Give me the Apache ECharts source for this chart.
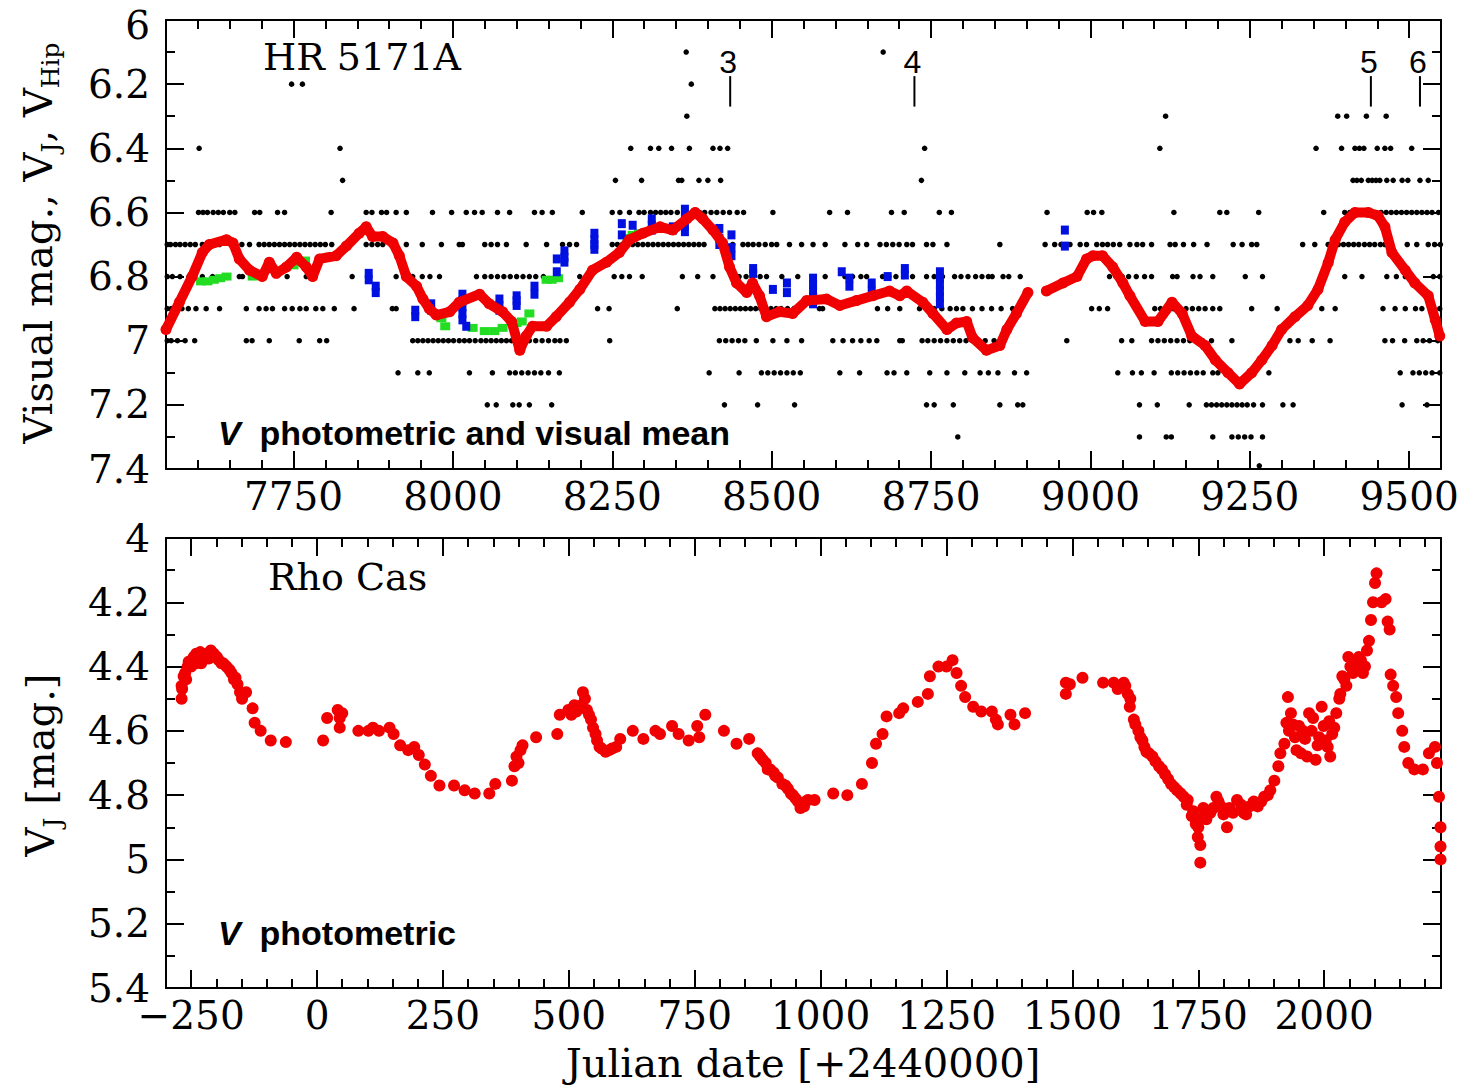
<!DOCTYPE html>
<html><head><meta charset="utf-8">
<script src="https://cdn.jsdelivr.net/npm/echarts@6/dist/echarts.min.js"></script>
<style>html,body{margin:0;padding:0;background:#fff}#c{width:1462px;height:1088px}</style>
</head><body><div id="c"></div>
<script>
// ---------- tick values ----------
const xTopMajor = [7750, 8000, 8250, 8500, 8750, 9000, 9250, 9500];
const xTopMinor = [7600,7650,7700,7800,7850,7900,7950,8050,8100,8150,8200,8300,8350,8400,8450,8550,8600,8650,8700,8800,8850,8900,8950,9050,9100,9150,9200,9300,9350,9400,9450];
const yTopMajor = [6, 6.2, 6.4, 6.6, 6.8, 7, 7.2, 7.4];
const yTopMinor = [6.1, 6.3, 6.5, 6.7, 6.9, 7.1, 7.3];
const xBotMajor = [-250, 0, 250, 500, 750, 1000, 1250, 1500, 1750, 2000];
const xBotMinor = [-200,-150,-100,-50,50,100,150,200,300,350,400,450,550,600,650,700,800,850,900,950,1050,1100,1150,1200,1300,1350,1400,1450,1550,1600,1650,1700,1800,1850,1900,1950,2050,2100,2150,2200];
const yBotMajor = [4, 4.2, 4.4, 4.6, 4.8, 5, 5.2, 5.4];
const yBotMinor = [4.1, 4.3, 4.5, 4.7, 4.9, 5.1, 5.3];

// ---------- HR 5171A: visual estimates (JD-2440000) per magnitude level ----------
const vis61 = [8366, 8675];
const vis62 = [7747, 7764, 8374];
const vis63 = [8367, 9118, 9388, 9402, 9433, 9464];
const vis64 = [7602, 7823, 8279, 8310, 8323, 8343, 8371, 8408, 8419, 8431, 8740, 9109, 9354, 9394, 9415, 9422, 9429, 9450, 9462, 9471, 9504];
const vis65 = [7827, 8255, 8296, 8354, 8359, 8386, 8400, 8420, 8735, 9412, 9418, 9425, 9436, 9442, 9448, 9454, 9465, 9475, 9489, 9498, 9517, 9530];
const vis66 = [7601, 7608, 7615, 7624, 7632, 7640, 7650, 7658, 7689, 7697, 7725, 7736, 7809, 7864, 7873, 7888, 7896, 7911, 7927, 7968, 7998, 8021, 8034, 8046, 8070, 8089, 8128, 8140, 8156, 8203, 8250, 8262, 8277, 8292, 8300, 8310, 8318, 8326, 8334, 8342, 8352, 8379, 8387, 8395, 8405, 8414, 8424, 8434, 8446, 8456, 8502, 8591, 8619, 8688, 8708, 8763, 8782, 8932, 8995, 9005, 9018, 9131, 9203, 9214, 9264, 9366, 9399, 9407, 9415, 9423, 9431, 9440, 9448, 9456, 9464, 9472, 9480, 9488, 9496, 9504, 9512, 9520, 9528, 9536, 9546];
const vis67 = [7552, 7557, 7565, 7572, 7580, 7588, 7596, 7607, 7617, 7634, 7657, 7669, 7681, 7696, 7704, 7712, 7720, 7728, 7736, 7744, 7752, 7760, 7768, 7776, 7784, 7792, 7800, 7810, 7864, 7873, 7882, 7890, 7905, 7927, 7952, 7982, 8010, 8015, 8050, 8060, 8070, 8084, 8115, 8147, 8172, 8183, 8194, 8250, 8258, 8266, 8274, 8282, 8290, 8298, 8306, 8314, 8322, 8330, 8338, 8346, 8354, 8362, 8370, 8378, 8386, 8394, 8418, 8439, 8455, 8463, 8471, 8480, 8490, 8500, 8508, 8528, 8547, 8565, 8584, 8615, 8635, 8649, 8670, 8680, 8690, 8700, 8712, 8721, 8743, 8753, 8775, 8858, 8929, 8944, 8954, 8968, 8984, 8994, 9010, 9019, 9027, 9036, 9046, 9062, 9073, 9082, 9096, 9125, 9133, 9146, 9162, 9183, 9224, 9238, 9253, 9261, 9333, 9352, 9373, 9381, 9389, 9397, 9405, 9413, 9421, 9430, 9438, 9446, 9455, 9462, 9497, 9512, 9530, 9540, 9549];
const vis68 = [7552, 7560, 7572, 7586, 7607, 7623, 7665, 7670, 7740, 7770, 7842, 7911, 7924, 7937, 7952, 7964, 7979, 8037, 8050, 8060, 8070, 8080, 8090, 8100, 8110, 8120, 8130, 8142, 8163, 8199, 8253, 8265, 8277, 8297, 8360, 8384, 8408, 8439, 8449, 8460, 8470, 8482, 8492, 8516, 8541, 8584, 8615, 8627, 8640, 8649, 8674, 8684, 8695, 8707, 8721, 8743, 8755, 8768, 8787, 8797, 8808, 8820, 8830, 8840, 8846, 8863, 8872, 8890, 9030, 9040, 9050, 9060, 9072, 9085, 9096, 9129, 9136, 9161, 9172, 9192, 9243, 9270, 9399, 9426, 9465, 9480, 9494, 9538, 9548];
const vis69 = [7552, 7558, 7566, 7575, 7585, 7597, 7613, 7634, 7676, 7696, 7707, 7717, 7736, 7748, 7760, 7770, 7785, 7796, 7814, 7845, 7905, 7911, 8227, 8245, 8352, 8411, 8419, 8427, 8435, 8443, 8451, 8459, 8467, 8475, 8483, 8491, 8499, 8507, 8515, 8525, 8535, 8545, 8575, 8580, 8666, 8682, 8701, 8732, 8743, 8755, 8767, 8780, 8790, 8800, 8815, 8830, 8845, 8860, 8878, 9002, 9014, 9027, 9101, 9110, 9120, 9130, 9140, 9150, 9160, 9170, 9180, 9192, 9203, 9253, 9293, 9363, 9384, 9459, 9478, 9494, 9510, 9520, 9537, 9548];
const vis70 = [7552, 7558, 7568, 7580, 7595, 7676, 7685, 7712, 7759, 7791, 7802, 7937, 7945, 7953, 7961, 7969, 7977, 7985, 7993, 8001, 8010, 8018, 8026, 8035, 8044, 8052, 8060, 8068, 8076, 8084, 8092, 8100, 8110, 8120, 8130, 8140, 8150, 8160, 8168, 8178, 8246, 8418, 8428, 8438, 8448, 8458, 8476, 8502, 8524, 8547, 8596, 8612, 8627, 8640, 8653, 8665, 8701, 8705, 8736, 8745, 8755, 8765, 8775, 8785, 8795, 8805, 8815, 8824, 8835, 8849, 8963, 9049, 9065, 9096, 9106, 9116, 9126, 9136, 9146, 9156, 9166, 9176, 9190, 9222, 9313, 9326, 9348, 9376, 9462, 9474, 9493, 9512, 9522, 9532, 9545];
const vis71 = [7914, 7945, 7963, 8026, 8062, 8089, 8098, 8108, 8118, 8128, 8138, 8150, 8167, 8402, 8449, 8484, 8494, 8504, 8514, 8524, 8534, 8545, 8607, 8638, 8681, 8692, 8712, 8748, 8775, 8803, 8827, 8840, 8855, 8881, 8900, 9043, 9066, 9080, 9100, 9127, 9137, 9147, 9157, 9167, 9177, 9192, 9200, 9214, 9280, 9486, 9506, 9516, 9526, 9536, 9548];
const vis72 = [8054, 8068, 8094, 8104, 8120, 8155, 8426, 8478, 8536, 8743, 8755, 8785, 8858, 8886, 8894, 9077, 9105, 9155, 9182, 9190, 9198, 9206, 9214, 9222, 9230, 9238, 9246, 9256, 9270, 9302, 9318, 9489, 9528];
const vis73 = [8792, 9077, 9119, 9127, 9192, 9222, 9232, 9242, 9252, 9270];
const vis74 = [9265];
const visLevels = [6.1, 6.2, 6.3, 6.4, 6.5, 6.6, 6.7, 6.8, 6.9, 7.0, 7.1, 7.2, 7.3, 7.39];
const visLists  = [vis61, vis62, vis63, vis64, vis65, vis66, vis67, vis68, vis69, vis70, vis71, vis72, vis73, vis74];

// ---------- HR 5171A: visual running mean (red) ----------
const meanJD  = [7550,7571,7591,7607,7618,7645,7655,7665,7681,7701,7712,7723,7739,7755,7770,7780,7791,7817,7833,7853,7864,7874,7890,7906,7916,7927,7943,7953,7963,7974,7995,8010,8042,8057,8078,8092,8105,8115,8125,8147,8162,8183,8199,8219,8241,8261,8277,8298,8325,8345,8367,8380,8392,8408,8423,8434,8445,8461,8470,8481,8492,8512,8533,8555,8586,8607,8633,8659,8685,8701,8712,8737,8753,8775,8790,8806,8815,8837,8858,8869,8884,8902,8916,8931,8957,8979,8994,9004,9019,9035,9051,9062,9086,9106,9128,9144,9159,9180,9196,9216,9234,9253,9269,9285,9300,9321,9341,9357,9373,9384,9399,9415,9436,9451,9462,9473,9494,9509,9530,9541,9548];
const meanMag = [6.965,6.88,6.80,6.725,6.70,6.685,6.695,6.745,6.78,6.80,6.755,6.79,6.77,6.74,6.77,6.80,6.745,6.735,6.705,6.665,6.645,6.675,6.675,6.695,6.735,6.80,6.83,6.87,6.90,6.92,6.91,6.88,6.855,6.885,6.91,6.94,7.03,6.985,6.955,6.955,6.925,6.88,6.84,6.78,6.755,6.725,6.685,6.665,6.645,6.655,6.62,6.60,6.62,6.655,6.695,6.77,6.82,6.85,6.82,6.86,6.925,6.91,6.915,6.875,6.87,6.89,6.875,6.86,6.845,6.86,6.845,6.88,6.915,6.965,6.945,6.94,6.99,7.03,7.015,6.965,6.915,6.85,null,6.845,6.82,6.80,6.745,6.735,6.735,6.77,6.82,6.86,6.94,6.94,6.88,6.915,6.985,7.015,7.06,7.10,7.135,7.10,7.06,7.015,6.965,6.925,6.89,6.84,6.757,6.685,6.63,6.60,6.60,6.61,6.645,6.725,6.78,6.82,6.86,6.935,6.985];

// ---------- HR 5171A: V photometry (blue) ----------
const blueJD  = [7868,7868,7879,7879,7941,7941,7966,7966,8015,8015,8015,8015,8015,8021,8073,8073,8073,8100,8100,8100,8128,8128,8163,8163,8175,8175,8175,8222,8222,8222,8222,8265,8265,8282,8312,8312,8312,8345,8345,8364,8364,8364,8364,8418,8418,8418,8437,8437,8437,8471,8471,8502,8524,8524,8565,8565,8565,8565,8565,8610,8622,8622,8657,8657,8682,8709,8709,8764,8764,8764,8764,8764,8764,8960,8960];
const blueMag = [6.79,6.81,6.83,6.85,6.905,6.925,6.885,6.905,6.855,6.875,6.895,6.915,6.935,6.955,6.87,6.89,6.905,6.86,6.875,6.89,6.83,6.855,6.745,6.785,6.72,6.74,6.755,6.665,6.685,6.70,6.715,6.635,6.67,6.64,6.62,6.64,6.655,6.645,6.655,6.59,6.615,6.64,6.66,6.65,6.68,6.70,6.67,6.71,6.735,6.775,6.79,6.84,6.82,6.85,6.805,6.825,6.845,6.865,6.885,6.785,6.805,6.83,6.82,6.845,6.80,6.775,6.795,6.785,6.805,6.825,6.845,6.865,6.885,6.655,6.705];

// ---------- HR 5171A: V photometry (green) ----------
const greenJD  = [7605,7615,7625,7635,7645,7686,7750,7760,7768,7982,7988,8031,8050,8065,8078,8100,8108,8120,8147,8155,8165,8274,8282,8292];
const greenMag = [6.815,6.815,6.81,6.805,6.80,6.80,6.765,6.755,6.75,6.93,6.955,6.96,6.97,6.97,6.96,6.945,6.94,6.915,6.81,6.81,6.805,6.68,6.67,6.665];

// ---------- HR 5171A: event markers ----------
const markerJD = [8435, 8724, 9440, 9517];
const markerLabels = ['3', '4', '5', '6'];

// ---------- Rho Cas: V photometry ----------
const rhoJD  = [-269,-269,-268,-265,-262,-260,-257,-255,-250,-249,-245,-240,-240,-236,-232,-230,-228,-224,-220,-215,-211,-207,-205,-199,-195,-190,-186,-180,-174,-170,-165,-162,-158,-153,-149,-141,-128,-124,-112,-92,-62,12,20,41,45,45,50,82,102,111,123,144,152,165,181,193,202,214,226,243,272,293,313,342,354,387,392,396,400,404,408,435,477,482,499,505,511,515,520,525,528,532,536,540,544,548,553,556,561,565,573,580,586,594,602,627,648,672,681,705,718,738,755,759,771,808,833,858,875,880,885,891,895,900,907,910,915,924,930,935,941,945,950,955,960,965,967,970,975,988,1025,1053,1082,1102,1110,1123,1131,1156,1164,1193,1213,1217,1234,1250,1262,1270,1279,1287,1303,1319,1340,1348,1352,1377,1385,1406,1487,1487,1495,1520,1561,1582,1590,1602,1605,1610,1614,1615,1622,1625,1631,1635,1639,1643,1647,1652,1659,1665,1672,1678,1684,1690,1696,1702,1708,1715,1721,1727,1729,1737,1740,1745,1745,1749,1750,1754,1754,1758,1760,1766,1774,1780,1786,1790,1795,1800,1807,1812,1819,1827,1835,1840,1845,1852,1860,1868,1875,1881,1888,1893,1901,1909,1913,1921,1925,1928,1930,1934,1938,1942,1945,1950,1954,1958,1962,1966,1970,1975,1978,1983,1987,1990,1995,1999,2003,2007,2010,2012,2016,2020,2024,2030,2032,2036,2040,2044,2048,2052,2057,2061,2065,2069,2073,2077,2081,2085,2089,2093,2097,2101,2104,2114,2122,2126,2130,2132,2137,2143,2147,2155,2159,2167,2179,2196,2208,2220,2224,2228,2231,2231,2231];
const rhoMag = [4.50,4.46,4.47,4.43,4.42,4.44,4.40,4.385,4.40,4.38,4.37,4.36,4.39,4.37,4.355,4.39,4.38,4.37,4.36,4.375,4.35,4.37,4.36,4.37,4.38,4.39,4.39,4.40,4.41,4.42,4.44,4.435,4.455,4.48,4.50,4.48,4.53,4.575,4.60,4.63,4.635,4.63,4.56,4.535,4.56,4.59,4.545,4.60,4.60,4.59,4.60,4.59,4.61,4.645,4.66,4.65,4.675,4.705,4.74,4.77,4.77,4.785,4.795,4.795,4.765,4.755,4.71,4.68,4.70,4.66,4.645,4.62,4.61,4.55,4.535,4.55,4.52,4.54,4.53,4.52,4.48,4.50,4.535,4.55,4.565,4.59,4.61,4.63,4.65,4.655,4.665,4.66,4.655,4.65,4.625,4.60,4.625,4.60,4.61,4.585,4.61,4.63,4.585,4.62,4.55,4.60,4.64,4.625,4.67,4.68,4.69,4.70,4.72,4.72,4.73,4.74,4.745,4.765,4.77,4.78,4.795,4.80,4.81,4.82,4.84,4.835,4.835,4.82,4.815,4.815,4.795,4.80,4.765,4.70,4.64,4.61,4.555,4.545,4.53,4.51,4.485,4.43,4.40,4.40,4.38,4.42,4.46,4.495,4.525,4.54,4.54,4.565,4.58,4.55,4.58,4.545,4.45,4.485,4.455,4.435,4.45,4.45,4.47,4.45,4.46,4.485,4.525,4.50,4.565,4.58,4.60,4.62,4.63,4.65,4.665,4.67,4.68,4.695,4.71,4.72,4.735,4.75,4.765,4.775,4.785,4.795,4.805,4.83,4.815,4.865,4.85,4.875,4.89,4.93,4.90,4.955,5.01,4.87,4.84,4.875,4.855,4.84,4.805,4.82,4.835,4.86,4.90,4.84,4.855,4.815,4.83,4.855,4.86,4.835,4.82,4.835,4.82,4.805,4.80,4.785,4.755,4.71,4.67,4.64,4.575,4.495,4.60,4.545,4.58,4.62,4.66,4.585,4.67,4.60,4.625,4.68,4.545,4.60,4.56,4.69,4.645,4.62,4.525,4.585,4.63,4.65,4.57,4.68,4.61,4.59,4.545,4.50,4.485,4.43,4.44,4.46,4.37,4.40,4.42,4.39,4.40,4.37,4.38,4.42,4.40,4.35,4.32,4.255,4.20,4.14,4.11,4.20,4.19,4.26,4.285,4.425,4.46,4.495,4.545,4.60,4.65,4.70,4.72,4.72,4.67,4.65,4.70,4.805,4.90,4.96,5.00];

// ---------- build ----------
const RED = '#f00000', BLUE = '#0010e0', GREEN = '#22dd22', INK = '#000';
const pair = (xs, ys) => xs.map((x, i) => [x, ys[i]]);
let visualData = [];
visLists.forEach((lst, k) => lst.forEach(j => visualData.push([j, visLevels[k]])));
const meanData = pair(meanJD, meanMag);
const blueData = pair(blueJD, blueMag);
const greenData = pair(greenJD, greenMag);
const rhoData = pair(rhoJD, rhoMag);

const magFmt = v => String(Math.round(v * 10) / 10);
// the very top label is nudged down slightly so it is not cut at the page edge
const magFmtTop = v => (Math.abs(v - 6) < 1e-9 ? '{t|6}' : magFmt(v));
const jdFmt = v => v < 0 ? '\u2212' + Math.abs(v) : String(v);
const SERIF = '"DejaVu Serif"';

function axisSet(gridIndex, dim, min, max, majors, minors, fmt, inverse) {
  const posA = dim === 'x' ? 'bottom' : 'left';
  const posB = dim === 'x' ? 'top' : 'right';
  const mk = (pos, vals, len, labels, line) => ({
    gridIndex, type: 'value', min, max, inverse: !!inverse, position: pos,
    splitLine: {show: false}, minorTick: {show: false}, minorSplitLine: {show: false},
    axisLine: {show: line, onZero: false, lineStyle: {color: INK, width: 2}},
    axisTick: {show: true, inside: true, length: len, customValues: vals, lineStyle: {color: INK, width: 2}},
    axisLabel: labels ? {show: true, customValues: vals, formatter: fmt, color: INK,
      fontFamily: SERIF, fontSize: 39, lineHeight: 30, margin: dim === 'x' ? 12 : 16,
      rich: {t: {fontFamily: SERIF, fontSize: 39, color: INK, lineHeight: 30, padding: [10, 0, 0, 0]}}} : {show: false}
  });
  return [mk(posA, majors, 18, true, true), mk(posA, minors, 9, false, false),
          mk(posB, majors, 18, false, true), mk(posB, minors, 9, false, false)];
}

const chart = echarts.init(document.getElementById('c'), null, {renderer: 'svg'});
chart.setOption({
  animation: false,
  backgroundColor: '#fff',
  grid: [
    {left: 166, top: 20, width: 1275, height: 449, outerBoundsMode: 'none', containLabel: false},
    {left: 166, top: 538, width: 1275, height: 450, outerBoundsMode: 'none', containLabel: false}
  ],
  xAxis: [].concat(
    axisSet(0, 'x', 7550, 9550, xTopMajor, xTopMinor, v => String(v), false),
    axisSet(1, 'x', -300, 2232, xBotMajor, xBotMinor, jdFmt, false)
  ),
  yAxis: [].concat(
    axisSet(0, 'y', 6, 7.4, yTopMajor, yTopMinor, magFmtTop, true),
    axisSet(1, 'y', 4, 5.4, yBotMajor, yBotMinor, magFmt, true)
  ),
  series: [
    {type: 'scatter', xAxisIndex: 0, yAxisIndex: 0, data: visualData, symbol: 'circle', symbolSize: 5.5,
     itemStyle: {color: INK, opacity: 1}, silent: true},
    {type: 'line', xAxisIndex: 0, yAxisIndex: 0, data: meanData, connectNulls: false,
     symbol: 'circle', symbolSize: 11, showSymbol: true, showAllSymbol: true,
     lineStyle: {color: RED, width: 10, cap: 'round', join: 'round'}, itemStyle: {color: RED, borderWidth: 0, opacity: 1}, silent: true},
    {type: 'scatter', xAxisIndex: 0, yAxisIndex: 0, data: greenData, symbol: 'rect', symbolSize: [10, 8],
     itemStyle: {color: GREEN, opacity: 1}, silent: true},
    {type: 'scatter', xAxisIndex: 0, yAxisIndex: 0, data: blueData, symbol: 'rect', symbolSize: [8, 9],
     itemStyle: {color: BLUE, opacity: 1}, silent: true},
    {type: 'custom', xAxisIndex: 0, yAxisIndex: 0, data: markerJD.map((x, i) => [x, i]), silent: true,
     renderItem: function (params, api) {
       const x = api.value(0);
       const p1 = api.coord([x, 6.175]);
       const p2 = api.coord([x, 6.27]);
       const pt = api.coord([x, 6.13]);
       return {type: 'group', children: [
         {type: 'line', shape: {x1: p1[0], y1: p1[1], x2: p2[0], y2: p2[1]}, style: {stroke: INK, lineWidth: 2}},
         {type: 'text', x: pt[0] - 2, y: pt[1], style: {text: markerLabels[api.value(1)], fontSize: 32,
           fontFamily: '"Liberation Sans"', fill: INK, align: 'center', verticalAlign: 'middle'}}
       ]};
     }},
    {type: 'scatter', xAxisIndex: 4, yAxisIndex: 4, data: rhoData, symbol: 'circle', symbolSize: 12,
     itemStyle: {color: RED, opacity: 1}, silent: true}
  ],
  graphic: [
    {type: 'text', x: 263, y: 57, style: {text: 'HR 5171A', fontSize: 38, fontFamily: SERIF, fill: INK, align: 'left', verticalAlign: 'middle'}},
    {type: 'text', x: 268, y: 577, style: {text: 'Rho Cas', fontSize: 38, fontFamily: SERIF, fill: INK, align: 'left', verticalAlign: 'middle'}},
    {type: 'text', x: 218, y: 433, style: {text: '{v|V}{t|  photometric and visual mean}', fill: INK, align: 'left', verticalAlign: 'middle',
      rich: {v: {fontSize: 34, fontFamily: '"Liberation Sans"', fontWeight: 'bold', fontStyle: 'italic'},
             t: {fontSize: 34, fontFamily: '"Liberation Sans"', fontWeight: 'bold'}}}},
    {type: 'text', x: 218, y: 933, style: {text: '{v|V}{t|  photometric}', fill: INK, align: 'left', verticalAlign: 'middle',
      rich: {v: {fontSize: 34, fontFamily: '"Liberation Sans"', fontWeight: 'bold', fontStyle: 'italic'},
             t: {fontSize: 34, fontFamily: '"Liberation Sans"', fontWeight: 'bold'}}}},
    {type: 'text', x: 38, y: 243, rotation: Math.PI / 2, style: {
      text: '{m|Visual mag., V}{s|J}{m|, V}{s|Hip}', fill: INK, align: 'center', verticalAlign: 'middle',
      rich: {m: {fontSize: 40, fontFamily: SERIF, lineHeight: 50, verticalAlign: 'middle'},
             s: {fontSize: 25, fontFamily: SERIF, lineHeight: 26, verticalAlign: 'bottom'}}}},
    {type: 'text', x: 40, y: 765, rotation: Math.PI / 2, style: {
      text: '{m|V}{s|J}{m| [mag.]}', fill: INK, align: 'center', verticalAlign: 'middle',
      rich: {m: {fontSize: 40, fontFamily: SERIF, lineHeight: 50, verticalAlign: 'middle'},
             s: {fontSize: 25, fontFamily: SERIF, lineHeight: 26, verticalAlign: 'bottom'}}}},
    {type: 'text', x: 803, y: 1063, style: {text: 'Julian date [+2440000]', fontSize: 40, fontFamily: SERIF, fill: INK, align: 'center', verticalAlign: 'middle'}}
  ]
});
</script>
</body></html>
